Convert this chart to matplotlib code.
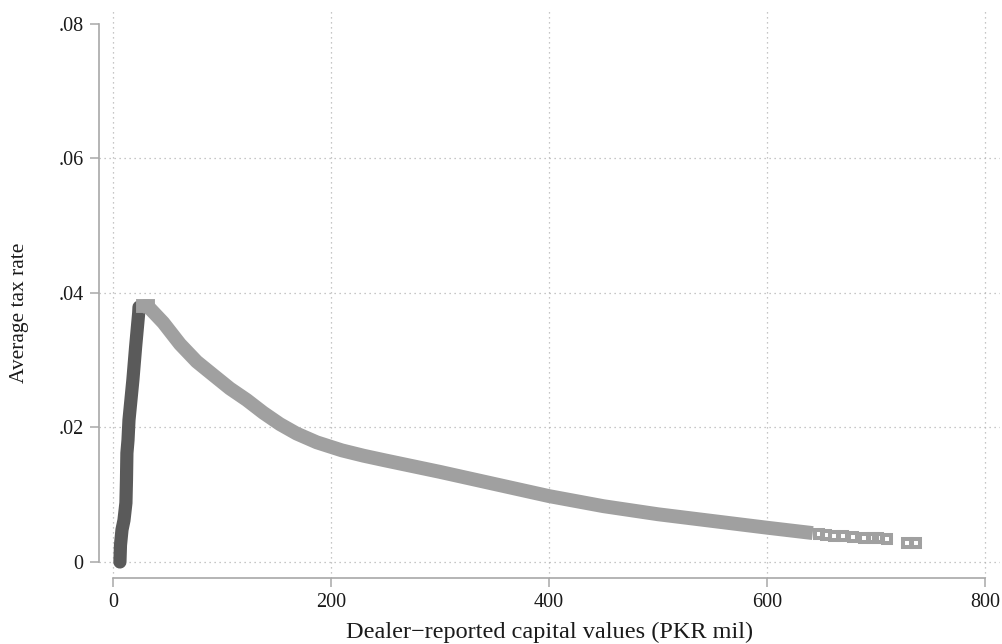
import numpy as np
import matplotlib.pyplot as plt

plt.rcParams['font.family'] = ['Liberation Serif', 'DejaVu Serif']

# below-threshold sales: dealer value (PKR mil) and average tax rate
low_value = [6.4, 6.9, 8.3, 10.1, 11.9, 12.4, 12.8, 13.8, 14.7, 16.5, 18.3, 20.8, 23.6, 23.9]
low_rate = [0.0, 0.0025, 0.0048, 0.0062, 0.0088, 0.0122, 0.0162, 0.0181, 0.0211,
            0.0241, 0.0271, 0.0320, 0.0370, 0.0379]

# above-threshold sales, dense part
high_value = [27.5, 32.1, 46.1, 61.5, 76.8, 92.0, 107.3, 122.7, 137.9, 153.2, 168.5,
              186.9, 210.0, 230.0, 250.0, 300.0, 350.0, 400.0, 450.0, 500.0, 550.0,
              600.0, 642.0]
high_rate = [0.0380, 0.0380, 0.0356, 0.0324, 0.0298, 0.0278, 0.0258, 0.0241, 0.0222,
             0.0205, 0.0191, 0.0178, 0.0166, 0.0158, 0.0151, 0.0134, 0.0116, 0.0098,
             0.0083, 0.0071, 0.0061, 0.0051, 0.0043]

# above-threshold sales, sparse tail
tail_value = [647.7, 654.6, 661.9, 669.9, 679.1, 689.2, 697.7, 702.3, 709.8, 728.4, 736.9]
tail_rate = [0.0041, 0.0040, 0.0039, 0.0038, 0.0037, 0.0036, 0.0035, 0.0035, 0.0034,
             0.0028, 0.0028]

xticks = [0, 200, 400, 600, 800]
yticks = [0, 0.02, 0.04, 0.06, 0.08]
ytick_labels = ['0', '.02', '.04', '.06', '.08']

dark = '#5a5a5a'
light = '#a0a0a0'
axis_grey = '#a8a8a8'

fig = plt.figure(figsize=(10.03, 6.44), dpi=100)
ax = fig.add_axes([99 / 1003, 1 - 578 / 644, 901 / 1003, 568 / 644])

ax.plot(low_value, low_rate, color=dark, lw=9.5,
        solid_capstyle='round', solid_joinstyle='round', zorder=3)
ax.plot(high_value, high_rate, color=light, lw=10,
        solid_capstyle='butt', solid_joinstyle='round', zorder=4)
ax.plot(high_value[:2], high_rate[:2], color=light, lw=10,
        solid_capstyle='projecting', zorder=4)
ax.plot(tail_value, tail_rate, ls='none', marker='s', ms=6.3, mew=2.9,
        mfc='none', mec=light, zorder=4)

ax.set_xlim(-12.8, 813.8)
ax.set_ylim(-0.00238, 0.08208)
ax.set_xticks(xticks)
ax.set_yticks(yticks)
ax.set_yticklabels(ytick_labels)

for side in ['top', 'right']:
    ax.spines[side].set_visible(False)
ax.spines['left'].set_bounds(0, 0.08)
ax.spines['bottom'].set_bounds(0, 800)
for side in ['left', 'bottom']:
    ax.spines[side].set_color(axis_grey)
    ax.spines[side].set_linewidth(1.2)

ax.tick_params(direction='out', length=6.5, width=1.1, color=axis_grey,
               labelsize=14.5, labelcolor='#1a1a1a')
ax.tick_params(axis='y', pad=4.5)
ax.tick_params(axis='x', pad=4)

ax.grid(True, ls=(0, (1, 3)), color='#b4b4b4', lw=0.9)
ax.get_ygridlines()[-1].set_visible(False)
ax.set_axisbelow(True)

ax.set_xlabel('Dealer\u2212reported capital values (PKR mil)', fontsize=17.5, color='#1a1a1a')
ax.set_ylabel('Average tax rate', fontsize=15.5, color='#1a1a1a')
ax.xaxis.set_label_coords(0.5, -0.0775)
ax.yaxis.set_label_coords(-0.0777, 0.4665)

fig.savefig('out.png', dpi=100)
